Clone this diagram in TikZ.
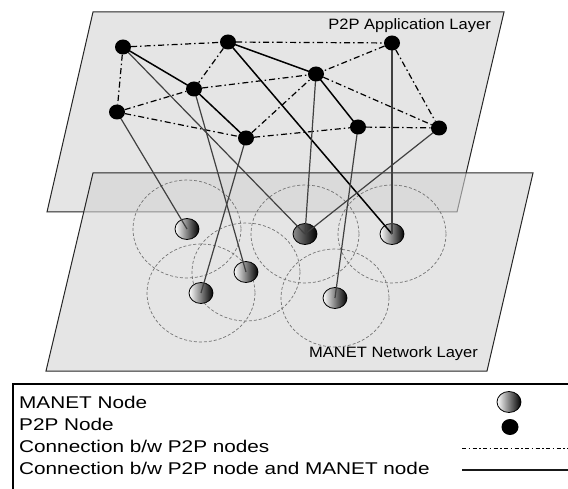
\documentclass[tikz,border=0pt]{standalone}
\usepackage{fontspec}
\setmainfont{Liberation Sans}
\usetikzlibrary{shapes.geometric}
\pgfdeclarelayer{front}
\pgfsetlayers{main,front}
\tikzstyle{layer plane}=[draw=black!85, line width=1pt]
\tikzstyle{peer}=[ellipse, fill=black, inner sep=0, minimum width=16pt, minimum height=15pt]
\tikzstyle{manet}=[ellipse, draw=black, line width=0.8pt, inner sep=0, minimum width=24pt, minimum height=21pt, left color=white, right color=black]
\tikzstyle{radio range}=[draw=black!55, dash pattern=on 3pt off 2pt, line width=0.7pt]
\tikzstyle{overlay link}=[black, line width=1.2pt, dash pattern=on 6pt off 3pt on 1.5pt off 3pt]
\tikzstyle{mapping}=[black!75, line width=1.2pt]
\tikzstyle{route}=[black, line width=1.5pt]
\newcommand{\legtext}[1]{\scalebox{1.22}[1]{\fontsize{17}{20}\selectfont #1}}
\newcommand{\laytext}[1]{\scalebox{1.1}[1]{\fontsize{15}{18}\selectfont #1}}

\begin{document}
\begin{tikzpicture}[x=1pt, y=-1pt]
  \useasboundingbox (0,0) rectangle (568,489);
  \clip (0,0) rectangle (568,489);

  % the two layers
  \draw[layer plane, fill=black!10] (93,12) -- (504,12) -- (457,212) -- (47,212) -- cycle;
  \draw[layer plane, fill=black!17, fill opacity=0.6] (93,173) -- (533,173) -- (487,371) -- (46,371) -- cycle;
  \node[anchor=base east, inner sep=0] (app label) at (491,30) {\laytext{P2P Application Layer}};
  \node[anchor=base west, inner sep=0] (net label) at (309,357) {\laytext{MANET Network Layer}};

  % MANET nodes with their radio range
  \foreach \x/\y in {187/229, 305/234, 392/234, 246/272, 201/293, 335/298}
    \draw[radio range] (\x,\y) ellipse [x radius=54, y radius=49];
  \node[manet] (m1) at (187,229) {};
  \node[manet, left color=black!45] (m2) at (305,234) {};
  \node[manet] (m3) at (392,234) {};
  \node[manet] (m4) at (246,272) {};
  \node[manet] (m5) at (201,293) {};
  \node[manet] (m6) at (335,298) {};

  % P2P nodes
  \begin{pgfonlayer}{front}
    \node[peer] (p1) at (123,47) {};
    \node[peer] (p2) at (228,42) {};
    \node[peer] (p3) at (392,43) {};
    \node[peer] (p4) at (316,74) {};
    \node[peer] (p5) at (194,89) {};
    \node[peer] (p6) at (117,112) {};
    \node[peer] (p7) at (246,138) {};
    \node[peer] (p8) at (358,127) {};
    \node[peer] (p9) at (439,128) {};
  \end{pgfonlayer}

  % overlay links
  \foreach \a/\b in {p1/p2, p2/p3, p1/p6, p2/p5, p3/p4, p3/p9, p6/p5,
                     p6/p7, p5/p4, p7/p4, p7/p8, p8/p9, p4/p9}
    \draw[overlay link] (\a) -- (\b);
  \foreach \a/\b in {p1/p5, p5/p7, p2/p4, p4/p8}
    \draw[route] (\a.center) -- (\b.center);

  % P2P node to MANET node
  \draw[route] (p2.center) -- (m3.center);
  \foreach \a/\b in {p1/m2, p6/m1, p5/m4, p7/m5, p4/m2, p8/m6, p3/m3, p9/m2}
    \draw[mapping] (\a.center) -- (\b.center);

  % legend
  \draw[line width=1.2pt] (13,384) rectangle (580,500);
  \node[anchor=base west, inner sep=0] (key text 1) at (19,408) {\legtext{MANET Node}};
  \node[anchor=base west, inner sep=0] (key text 2) at (19,430) {\legtext{P2P Node}};
  \node[anchor=base west, inner sep=0] (key text 3) at (19,452) {\legtext{Connection b/w P2P nodes}};
  \node[anchor=base west, inner sep=0] (key text 4) at (19,474) {\legtext{Connection b/w P2P node and MANET node}};
  \node[manet] (key manet) at (509,402) {};
  \node[peer, minimum width=17pt, minimum height=16pt] (key peer) at (510,427) {};
  \coordinate (key dash a) at (462,448);
  \coordinate (key dash b) at (568,448);
  \coordinate (key line a) at (462,470);
  \coordinate (key line b) at (568,470);
  \draw[overlay link, line width=1pt, dash pattern=on 4pt off 2.5pt on 1.5pt off 2.5pt] (key dash a) -- (key dash b);
  \draw[mapping, black!90] (key line a) -- (key line b);
\end{tikzpicture}
\end{document}
